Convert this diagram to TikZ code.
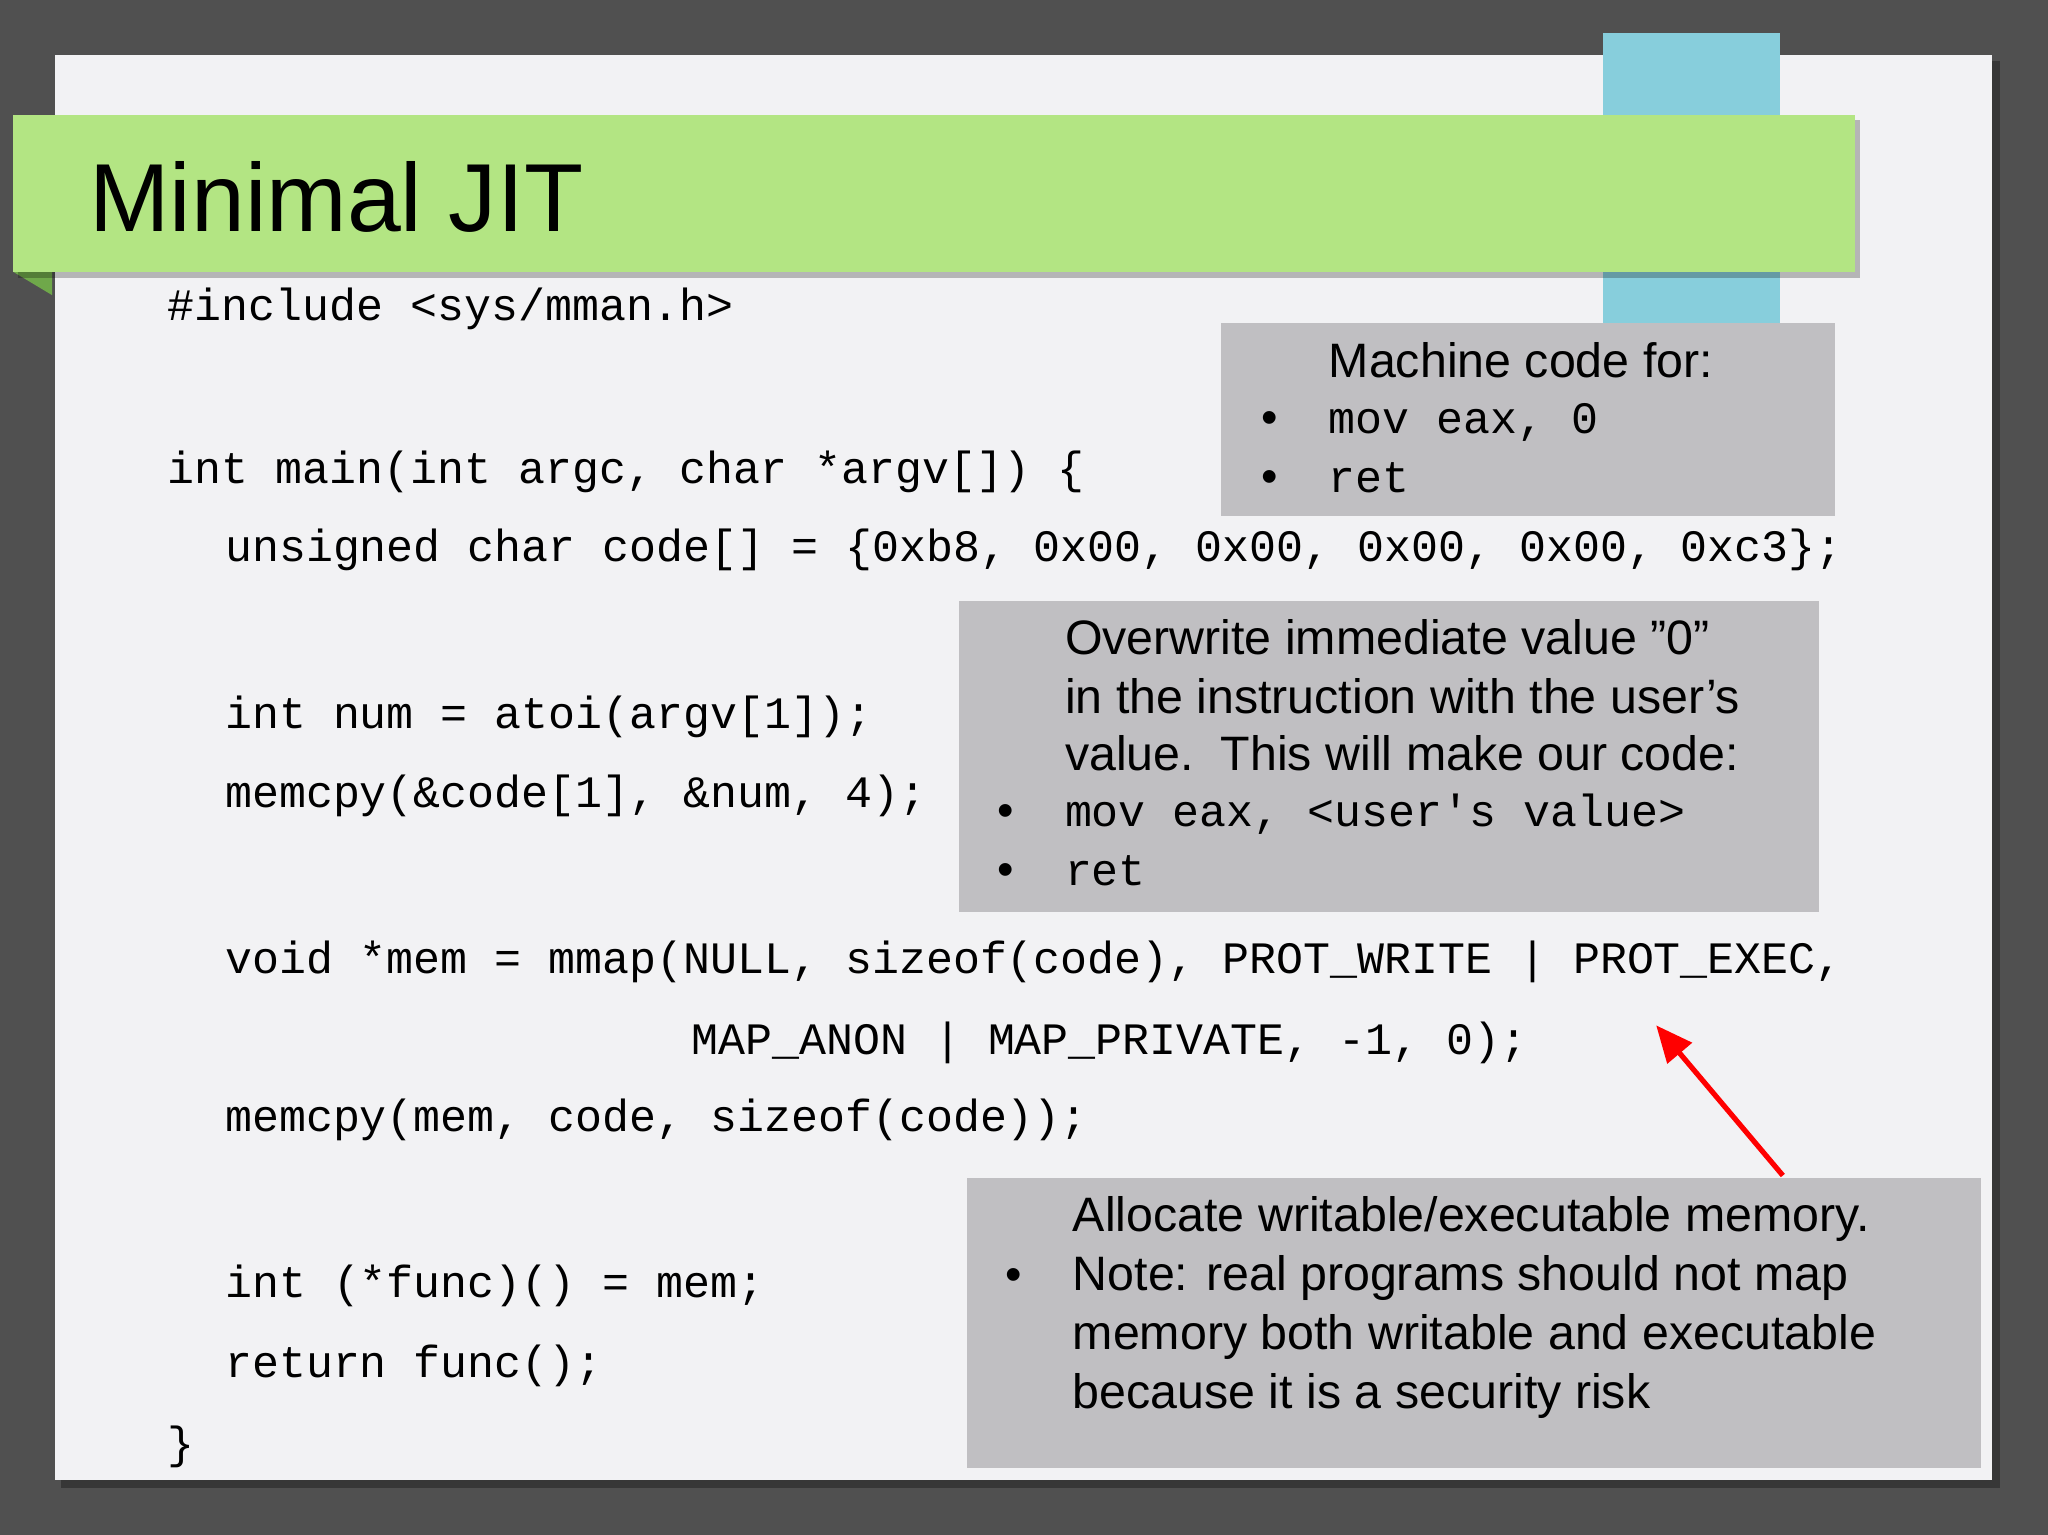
\documentclass[tikz,border=0pt]{standalone}
\usepackage{fontspec}
\setmainfont{Liberation Sans}
\setmonofont{Liberation Mono}
\usetikzlibrary{arrows.meta,shadows}
\definecolor{bgdark}{HTML}{505050}
\definecolor{slide}{HTML}{F2F2F4}
\definecolor{banner}{HTML}{B3E583}
\definecolor{bannerdk}{HTML}{6FA84A}
\definecolor{tab}{HTML}{87CEDC}
\definecolor{note}{HTML}{C0BFC2}
\tikzset{
 code/.style={anchor=base west,inner sep=0pt,font=\fontsize{17.2}{20}\selectfont\ttfamily},
 txt/.style={anchor=base west,inner sep=0pt,font=\fontsize{18.5}{22}\selectfont},
 bul/.style={anchor=base,inner sep=0pt,font=\fontsize{18}{20}\selectfont},
 notebox/.style={fill=note,draw=none},
}
\begin{document}
\begin{tikzpicture}[x=0.5pt,y=-0.5pt]
\useasboundingbox (0,0) rectangle (1568,1175);
\fill[bgdark] (0,0) rectangle (1568,1175);
\fill[black,opacity=0.3] (47,47) rectangle (1531,1139);
\fill[slide] (42,42) rectangle (1525,1133);
\fill[tab] (1227,25) rectangle (1363,250);
\fill[bannerdk] (10,208) -- (40,226) -- (40,208) -- cycle;
\fill[black,opacity=0.25] (14,92) rectangle (1424,213);
\fill[banner] (10,88) rectangle (1420,208);
\node[anchor=base west,inner sep=0pt,font=\fontsize{37}{40}\selectfont] (title) at (68,177) {Minimal JIT};
% code
\node[code] (c1) at (128,245) {\#include <sys/mman.h>};
\node[code] (c2) at (128,370) {int main(int argc, char *argv[]) \{};
\node[code] (c3) at (172,430) {unsigned char code[] = \{0xb8, 0x00, 0x00, 0x00, 0x00, 0xc3\};};
\node[code] (c4) at (172,558) {int num = atoi(argv[1]);};
\node[code] (c5) at (172,618) {memcpy(\&code[1], \&num, 4);};
\node[code] (c6) at (172,745) {void *mem = mmap(NULL, sizeof(code), PROT\_WRITE | PROT\_EXEC,};
\node[code] (c7) at (529,807) {MAP\_ANON | MAP\_PRIVATE, -1, 0);};
\node[code] (c8) at (172,866) {memcpy(mem, code, sizeof(code));};
\node[code] (c9) at (172,993) {int (*func)() = mem;};
\node[code] (c10) at (172,1055) {return func();};
\node[code] (c11) at (128,1117) {\}};
% box 1
\fill[notebox] (935,247) rectangle (1405,395);
\node[txt] (b1a) at (1017,289) {Machine code for:};
\node[bul] (b1b) at (972,332) {•};
\node[code] (b1c) at (1017,332) {mov eax, 0};
\node[bul] (b1d) at (972,377) {•};
\node[code] (b1e) at (1017,377) {ret};
% box 2
\fill[notebox] (734,460) rectangle (1393,698);
\node[txt] (b2a) at (815,501) {Overwrite immediate value "0"};
\node[txt] (b2b) at (815,546) {in the instruction with the user's};
\node[txt] (b2c) at (815,590) {value.\ \ This will make our code:};
\node[bul] (b2d) at (770,633) {•};
\node[code] (b2e) at (815,633) {mov eax, <user's value>};
\node[bul] (b2f) at (770,678) {•};
\node[code] (b2g) at (815,678) {ret};
% box 3
\fill[notebox] (740,902) rectangle (1517,1124);
\node[txt] (b3a) at (821,943) {Allocate writable/executable memory.};
\node[bul] (b3b) at (776,988) {•};
\node[txt] (b3c) at (821,988) {Note: real programs should not map};
\node[txt] (b3d) at (821,1033) {memory both writable and executable};
\node[txt] (b3e) at (821,1078) {because it is a security risk};
% arrow
\coordinate (as) at (1365,900);
\coordinate (ae) at (1268,785);
\draw[red,line width=2pt,-{Triangle[length=14pt,width=12pt]}] (as) -- (ae);
\end{tikzpicture}
\end{document}
